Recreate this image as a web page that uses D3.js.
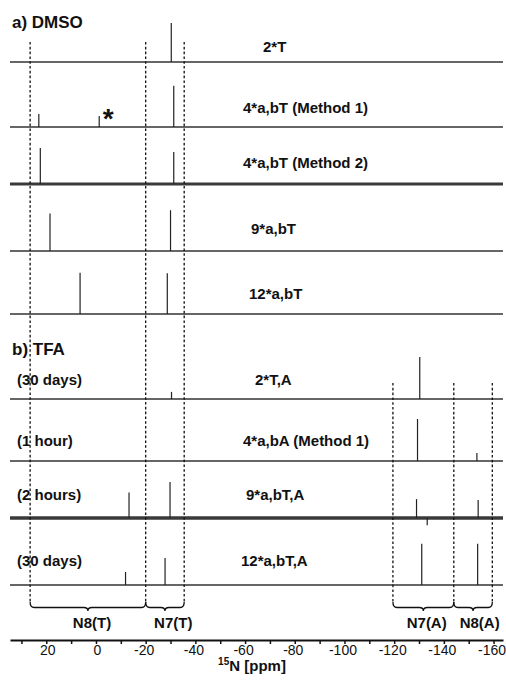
<!DOCTYPE html>
<html>
<head>
<meta charset="utf-8">
<script src="https://cdn.jsdelivr.net/npm/d3@7"></script>
<style>
  html, body { margin: 0; padding: 0; background: #fff; }
  svg { display: block; font-family: "Liberation Sans", Arial, Helvetica, sans-serif; }
</style>
</head>
<body>
<svg id="chart" width="506" height="681"></svg>
<script>
// ---------------- DATA ----------------
const spectrumNames = ["2*T", "4*a,bT (Method 1)", "4*a,bT (Method 2)", "9*a,bT", "12*a,bT",
                       "2*T,A", "4*a,bA (Method 1)", "9*a,bT,A", "12*a,bT,A"];
const spectrumConditions = ["", "", "", "", "", "(30 days)", "(1 hour)", "(2 hours)", "(30 days)"];
// chemical shifts (ppm) of the peaks in each spectrum
const peakShifts = [
  [-30.3],
  [23.0, -1.3, -31.3],
  [22.4, -31.3],
  [18.5, -30.0],
  [6.4, -28.7],
  [-30.4, -130.3],
  [-129.4, -153.3],
  [-13.3, -29.8, -129.0, -133.3, -153.8],
  [-11.9, -27.8, -131.1, -153.6]
];
// relative intensities (arbitrary units, 100 = tallest)
const peakIntensities = [
  [93],
  [31, 26, 98],
  [86, 76],
  [89, 97],
  [98, 97],
  [17, 100],
  [100, 19],
  [61, 86, 45, -17, 43],
  [31, 64, 98, 98]
];
const panelTitles = ["a) DMSO", "b) TFA"];
const regionBoundsT = [26.5, -20, -35.5];
const regionBoundsA = [-119.5, -144, -159.5];
const regionNames = ["N8(T)", "N7(T)", "N7(A)", "N8(A)"];
const regionLabelShift = [1.6, -31.1, -133.1, -154.4];
const tickValues = [30, 20, 10, 0, -10, -20, -30, -40, -50, -60, -70, -80, -90, -100, -110, -120, -130, -140, -150, -160];
const tickLabels = [20, 0, -20, -40, -60, -80, -100, -120, -140, -160];
const impurityShift = -1.3; // marked with an asterisk

// ---------------- LAYOUT / STYLE ----------------
const baselineY = [62, 127, 184, 251, 314, 399, 461, 518, 585];
const nameX = [263, 243, 243, 251, 249, 255, 243, 246, 241];
const nameBaseline = [52, 112.5, 168, 234, 299, 385, 446, 500, 566];
const noiseWidth = [1.6, 1.4, 3.0, 1.4, 1.4, 1.4, 1.4, 3.4, 1.6];
const noiseColor = ["#333", "#333", "#3a3a3a", "#333", "#333", "#333", "#333", "#3a3a3a", "#333"];
const FONT = '"Liberation Sans", Arial, Helvetica, sans-serif';

const svg = d3.select("#chart");

const x = d3.scaleLinear().domain([34.6, -163.8]).range([10, 503]);
const yInt = d3.scaleLinear().domain([0, 100]).range([0, 42]);

// ---------------- SPECTRA ----------------
const line = d3.line().x(d => d[0]).y(d => d[1]);
spectrumNames.forEach((name, i) => {
  const g = svg.append("g");
  const b = baselineY[i];
  g.append("path")
    .attr("d", line([[x(34.6), b], [x(-163.8), b]]))
    .attr("stroke", noiseColor[i])
    .attr("stroke-width", noiseWidth[i])
    .attr("fill", "none");
  peakShifts[i].forEach((s, j) => {
    const v = peakIntensities[i][j];
    g.append("path")
      .attr("d", line([[x(s), b], [x(s), b - (v >= 0 ? yInt(v) : -yInt(-v))]]))
      .attr("stroke", "#222")
      .attr("stroke-width", 1.2)
      .attr("fill", "none");
  });
  g.append("text")
    .attr("x", nameX[i]).attr("y", nameBaseline[i])
    .attr("font-family", FONT).attr("font-weight", "bold").attr("font-size", 15)
    .attr("fill", "#111")
    .text(name);
  if (spectrumConditions[i]) {
    g.append("text")
      .attr("x", 17).attr("y", nameBaseline[i])
      .attr("font-family", FONT).attr("font-weight", "bold").attr("font-size", 15)
      .attr("fill", "#111")
      .text(spectrumConditions[i]);
  }
});

// asterisk for impurity
svg.append("text")
  .attr("x", x(impurityShift) + 9).attr("y", 128)
  .attr("text-anchor", "middle")
  .attr("font-family", FONT).attr("font-weight", "bold").attr("font-size", 28)
  .attr("fill", "#111")
  .text("*");

// panel titles
svg.append("text").attr("x", 12).attr("y", 28)
  .attr("font-family", FONT).attr("font-weight", "bold").attr("font-size", 17)
  .attr("fill", "#111").text(panelTitles[0]);
svg.append("text").attr("x", 12).attr("y", 355)
  .attr("font-family", FONT).attr("font-weight", "bold").attr("font-size", 17)
  .attr("fill", "#111").text(panelTitles[1]);

// ---------------- DASHED REGION LINES ----------------
const braceTop = 602;
regionBoundsT.forEach(s => {
  svg.append("line")
    .attr("x1", x(s)).attr("x2", x(s)).attr("y1", 42).attr("y2", braceTop)
    .attr("stroke", "#111").attr("stroke-width", 1.3).attr("stroke-dasharray", "2.6,2.2");
});
regionBoundsA.forEach(s => {
  svg.append("line")
    .attr("x1", x(s)).attr("x2", x(s)).attr("y1", 383).attr("y2", braceTop)
    .attr("stroke", "#111").attr("stroke-width", 1.3).attr("stroke-dasharray", "2.6,2.2");
});

// ---------------- BRACES ----------------
const bracePairs = [
  [regionBoundsT[0], regionBoundsT[1]],
  [regionBoundsT[1], regionBoundsT[2]],
  [regionBoundsA[0], regionBoundsA[1]],
  [regionBoundsA[1], regionBoundsA[2]]
];
bracePairs.forEach((p, k) => {
  const x1 = x(p[0]), x2 = x(p[1]), xm = (x1 + x2) / 2;
  const yTop = braceTop, yMid = 607.5, yTip = 611;
  const path = d3.path();
  path.moveTo(x1, yTop);
  path.quadraticCurveTo(x1, yMid, x1 + 4, yMid);
  path.lineTo(xm - 4, yMid);
  path.quadraticCurveTo(xm, yMid, xm, yTip);
  path.quadraticCurveTo(xm, yMid, xm + 4, yMid);
  path.lineTo(x2 - 4, yMid);
  path.quadraticCurveTo(x2, yMid, x2, yTop);
  svg.append("path").attr("d", path.toString())
    .attr("fill", "none").attr("stroke", "#111").attr("stroke-width", 1.3);
  svg.append("text")
    .attr("x", x(regionLabelShift[k])).attr("y", 627.5)
    .attr("text-anchor", "middle")
    .attr("font-family", FONT).attr("font-weight", "bold").attr("font-size", 15)
    .attr("fill", "#111")
    .text(regionNames[k]);
});

// ---------------- AXIS ----------------
const axisG = svg.append("g").attr("transform", "translate(0,640)");
const axis = d3.axisBottom(x)
  .tickValues(tickValues)
  .tickSize(4)
  .tickSizeOuter(0)
  .tickPadding(1)
  .tickFormat(d => tickLabels.includes(d) ? String(d) : "");
axisG.call(axis);
axisG.select(".domain").attr("stroke", "#111").attr("stroke-width", 1.8);
axisG.selectAll(".tick line").attr("stroke", "#111").attr("stroke-width", 1.5);
axisG.selectAll(".tick text")
  .attr("font-family", FONT).attr("font-size", 14).attr("fill", "#111")
  .attr("dx", d => d < 0 ? -2 : 1);

// axis title
const title = svg.append("text")
  .attr("x", 252).attr("y", 671)
  .attr("text-anchor", "middle")
  .attr("font-family", FONT).attr("font-weight", "bold").attr("font-size", 15)
  .attr("fill", "#111");
title.append("tspan").attr("font-size", 10).attr("dy", -6).text("15");
title.append("tspan").attr("dy", 6).text("N [ppm]");
</script>
</body>
</html>
